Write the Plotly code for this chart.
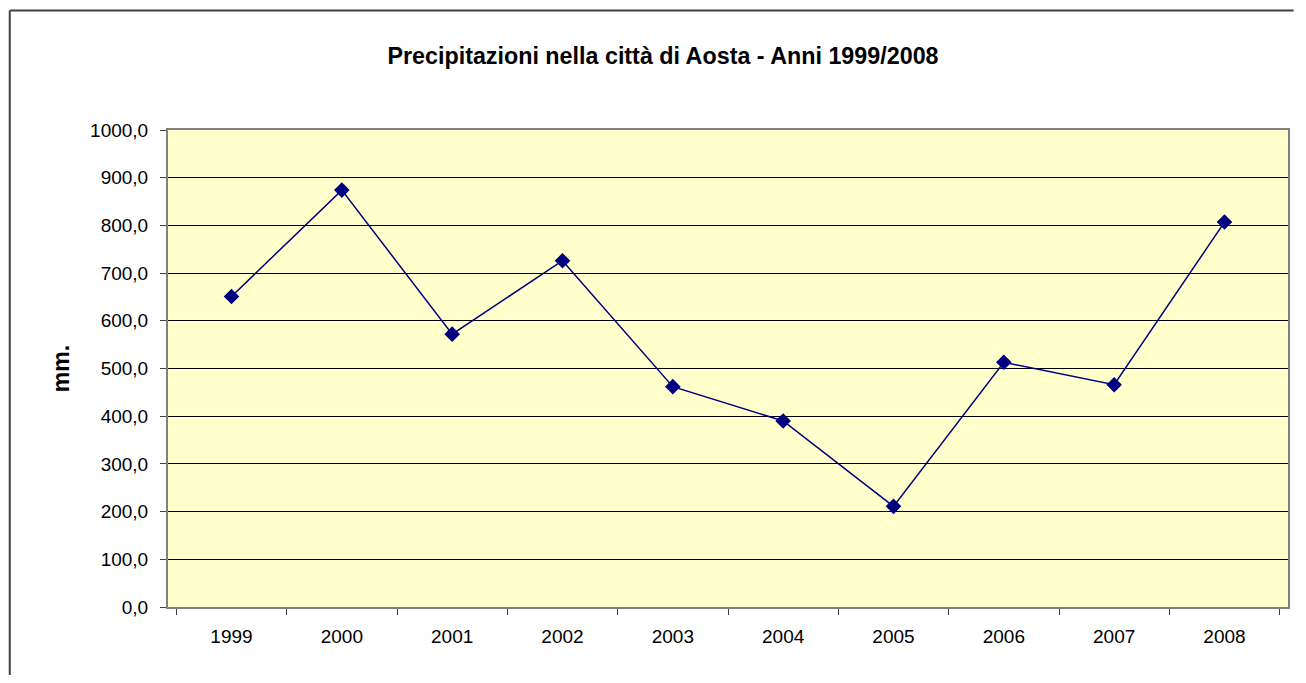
import plotly.graph_objects as go

# Precipitazioni annue ad Aosta (mm)
anni = ['1999', '2000', '2001', '2002', '2003', '2004', '2005', '2006', '2007', '2008']
mm = [651, 874, 572, 726, 462, 390, 211, 513, 466, 807]

y_ticks = list(range(0, 1001, 100))

# la pagina html ha 8px di margine sul body: figura un po' più piccola
W, H = 1290, 667

fig = go.Figure()
fig.add_trace(go.Scatter(
    x=anni, y=mm, mode='lines+markers',
    line=dict(color='#000080', width=1.5),
    marker=dict(symbol='diamond', size=12, color='#000080'),
    showlegend=False,
))

# cornice esterna (solo lati sinistro e superiore visibili)
bordo = dict(color='#404040', width=2)
fig.add_shape(type='line', xref='paper', yref='paper',
              x0=-0.1413, x1=-0.1413, y0=1.2504, y1=-0.2, line=bordo)
fig.add_shape(type='line', xref='paper', yref='paper',
              x0=-0.1413, x1=1.005, y0=1.2504, y1=1.2504, line=bordo)

fig.update_layout(
    width=W, height=H,
    margin=dict(l=160, r=8, t=122, b=68),
    paper_bgcolor='white', plot_bgcolor='#FFFFCC',
    separators=',.',
    font=dict(family='Liberation Sans, Arial, sans-serif', color='black', size=19),
    title=dict(text='<b>Precipitazioni nella città di Aosta - Anni 1999/2008</b>',
               xref='container', x=655 / W, xanchor='center',
               yref='container', y=1 - 48 / H, yanchor='middle',
               font=dict(size=23.3)),
)
fig.update_xaxes(
    type='category', tickson='boundaries', ticks='outside', ticklen=6,
    tickcolor='#404040', showgrid=False,
    showline=True, linecolor='#808080', linewidth=2, mirror=True,
    ticklabelstandoff=11,
)
fig.update_yaxes(
    range=[0, 1000], tickvals=y_ticks, tickformat='.1f',
    ticks='outside', ticklen=6, tickcolor='#404040',
    showgrid=True, gridcolor='black', gridwidth=1, zeroline=False,
    showline=True, linecolor='#808080', linewidth=2, mirror=True,
    ticklabelstandoff=8,
    title=dict(text='<b>mm.</b>', font=dict(size=23), standoff=14),
)

fig.write_html('out.html')
